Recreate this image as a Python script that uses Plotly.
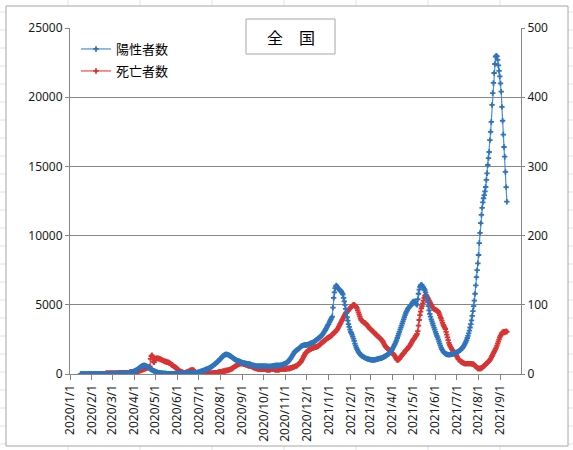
import pandas as pd
import plotly.graph_objects as go

# 7-day average, daily values
pos_start = "2020-01-16"
positives = [
    0, 0, 0, 0, 0, 0, 0, 0, 1, 1, 1, 1, 1, 1, 1, 2,
    2, 2, 2, 2, 2, 2, 2, 1, 1, 1, 1, 1, 2, 3, 4, 5, 6, 7, 8, 9, 10, 12, 14, 15, 16, 17, 18, 19, 20,
    21, 22, 24, 26, 28, 30, 33, 35, 38, 40, 42, 43, 44, 45, 45, 44, 43, 42, 42, 43, 45, 48, 52, 58, 66, 80, 95, 115, 135, 160, 185,
    200, 225, 250, 280, 310, 350, 390, 430, 470, 510, 545, 575, 600, 620, 625, 615, 595, 570, 540, 505, 470, 435, 400, 365, 330, 300, 270, 245, 220, 200,
    170, 150, 130, 115, 100, 90, 80, 70, 60, 55, 50, 45, 40, 38, 35, 32, 30, 28, 26, 25, 24, 24, 24, 25, 26, 27, 28, 30, 32, 34, 36,
    37, 38, 39, 40, 41, 42, 43, 44, 45, 46, 47, 48, 49, 50, 52, 54, 56, 58, 60, 62, 65, 68, 72, 76, 80, 85, 92, 100, 110, 120,
    130, 145, 160, 180, 200, 220, 240, 260, 280, 300, 320, 340, 360, 380, 400, 430, 460, 490, 520, 560, 600, 640, 680, 720, 760, 800, 850, 900, 950, 1000, 1050,
    1100, 1160, 1220, 1280, 1320, 1360, 1390, 1410, 1420, 1415, 1400, 1380, 1350, 1320, 1290, 1260, 1220, 1180, 1140, 1100, 1070, 1040, 1010, 980, 960, 940, 920, 900, 880, 860, 840,
    820, 800, 790, 780, 770, 760, 750, 740, 730, 720, 710, 700, 680, 660, 640, 620, 610, 600, 590, 580, 570, 560, 560, 560, 560, 560, 560, 560, 560, 560,
    560, 560, 560, 560, 560, 550, 550, 550, 550, 550, 550, 560, 570, 580, 590, 600, 610, 610, 610, 610, 620, 620, 620, 620, 630, 640, 660, 680, 700, 720, 750,
    770, 800, 830, 870, 920, 980, 1050, 1120, 1200, 1280, 1370, 1460, 1540, 1610, 1660, 1700, 1730, 1760, 1800, 1850, 1900, 1950, 2000, 2030, 2050, 2070, 2080, 2090, 2100, 2110,
    2100, 2120, 2140, 2160, 2180, 2200, 2220, 2240, 2260, 2290, 2320, 2360, 2400, 2440, 2480, 2520, 2560, 2600, 2640, 2680, 2720, 2780, 2850, 2920, 3000, 3080, 3160, 3250, 3350, 3450, 3550,
    3600, 3750, 3850, 3950, 4050, 4150, 4800, 5500, 5900, 6200, 6350, 6400, 6300, 6200, 6150, 6100, 6050, 6000, 5950, 5850, 5750, 5500, 5250, 5000, 4700, 4400, 4100, 3850, 3600, 3400, 3200,
    3050, 2950, 2850, 2700, 2550, 2400, 2200, 2050, 1900, 1800, 1700, 1600, 1520, 1450, 1400, 1350, 1300, 1270, 1240, 1210, 1180, 1150, 1130, 1110, 1090, 1070, 1060, 1050,
    1040, 1030, 1020, 1010, 1010, 1020, 1030, 1040, 1050, 1060, 1080, 1100, 1110, 1120, 1130, 1140, 1160, 1180, 1200, 1230, 1260, 1290, 1320, 1350, 1380, 1420, 1460, 1510, 1570, 1640, 1720,
    1800, 1900, 2000, 2100, 2200, 2320, 2450, 2600, 2750, 2900, 3050, 3200, 3350, 3500, 3650, 3800, 3950, 4100, 4250, 4400, 4500, 4600, 4700, 4780, 4850, 4900, 4950, 5000, 5100, 5200,
    5250, 5250, 5200, 5150, 5050, 5000, 5400, 5800, 6100, 6300, 6400, 6450, 6400, 6300, 6250, 6150, 6050, 5900, 5700, 5450, 5200, 4900, 4600, 4350, 4150, 3950, 3800, 3650, 3500, 3350, 3200,
    3050, 2900, 2750, 2650, 2500, 2350, 2200, 2050, 1900, 1800, 1700, 1620, 1560, 1510, 1470, 1440, 1420, 1410, 1400, 1400, 1400, 1410, 1420, 1430, 1440, 1460, 1480, 1500, 1520, 1540,
    1560, 1590, 1620, 1650, 1690, 1730, 1770, 1820, 1880, 1950, 2030, 2120, 2220, 2330, 2450, 2600, 2760, 2940, 3140, 3360, 3600, 3880, 4200, 4550, 4900, 5300, 5800, 6400, 7000, 7500, 8000,
    8600, 9460, 10200, 10900, 11500, 12000, 12400, 12700, 12930, 13200, 13510, 14020, 14500, 15100, 15600, 16040, 16900, 17500, 18210, 19440, 20300, 21030, 21750, 22400, 22925, 23000, 22950, 22700, 22300, 21900, 21500,
    21000, 20400, 19300, 18300, 17300, 16400, 15700, 14600, 13500, 12450,
]

death_start = "2020-02-13"
deaths = [
    0, 0, 0, 0, 0, 0, 0, 0, 1, 1, 1, 1, 1, 1, 1, 1, 1,
    1, 1, 1, 1, 1, 1, 1, 1, 1, 1, 2, 2, 2, 2, 2, 2, 2, 2, 2, 2, 2, 2, 2, 2, 2, 3, 3, 3, 3, 3, 3,
    3, 3, 4, 4, 4, 4, 4, 5, 5, 5, 6, 6, 6, 7, 7, 8, 8, 9, 9, 9, 10, 10, 11, 22, 26, 27, 25, 18, 17, 20,
    22, 23, 23, 22, 23, 22, 22, 21, 21, 20, 20, 19, 19, 18, 18, 18, 17, 17, 17, 16, 16, 15, 14, 13, 13, 12, 11, 10, 10, 9, 8,
    7, 6, 5, 4, 4, 3, 3, 3, 2, 2, 2, 2, 2, 3, 3, 3, 4, 4, 5, 5, 6, 6, 6, 5, 4, 3, 2, 2, 1, 1,
    1, 1, 1, 1, 1, 1, 1, 1, 1, 1, 1, 1, 1, 1, 1, 1, 1, 1, 1, 1, 1, 2, 2, 2, 2, 2, 2, 2, 3, 3, 3,
    3, 3, 3, 4, 4, 4, 4, 5, 5, 5, 5, 6, 6, 6, 7, 7, 8, 8, 9, 10, 11, 11, 12, 13, 13, 14, 14, 15, 15, 15, 15,
    15, 15, 14, 14, 14, 13, 13, 13, 12, 12, 12, 12, 11, 11, 10, 10, 9, 9, 9, 8, 8, 8, 7, 7, 7, 7, 7, 7, 7, 7,
    7, 7, 7, 7, 6, 6, 6, 6, 6, 6, 7, 7, 7, 7, 7, 7, 6, 6, 6, 6, 6, 6, 6, 7, 7, 7, 7, 7, 7, 7, 7,
    7, 7, 8, 8, 8, 8, 8, 9, 9, 9, 10, 10, 10, 11, 11, 12, 12, 13, 14, 15, 16, 17, 18, 20, 22, 24, 26, 28, 30, 31,
    32, 33, 34, 35, 35, 36, 36, 37, 37, 38, 38, 39, 39, 39, 39, 40, 40, 41, 42, 43, 44, 45, 46, 47, 47, 48, 49, 50, 51, 52, 52,
    53, 53, 54, 55, 56, 57, 58, 59, 60, 61, 62, 63, 64, 66, 68, 70, 72, 74, 76, 78, 80, 82, 84, 86, 88, 89, 90, 91, 92, 94, 95,
    96, 97, 98, 99, 100, 100, 99, 98, 97, 95, 92, 89, 86, 83, 80, 78, 77, 76, 75, 74, 74, 73, 72, 71, 70, 68, 67, 66,
    65, 64, 63, 62, 61, 60, 59, 58, 57, 56, 55, 54, 53, 52, 51, 50, 49, 48, 46, 44, 42, 40, 39, 38, 37, 36, 35, 34, 33, 32, 31,
    30, 29, 28, 27, 25, 23, 21, 20, 20, 21, 22, 24, 25, 26, 28, 29, 30, 31, 33, 34, 35, 36, 37, 39, 40, 41, 43, 45, 47, 49,
    50, 51, 53, 55, 56, 58, 62, 70, 78, 85, 90, 95, 98, 102, 106, 110, 113, 114, 113, 112, 110, 108, 106, 104, 102, 100, 98, 96, 95, 94, 93,
    93, 92, 92, 91, 90, 88, 85, 82, 80, 77, 74, 71, 69, 67, 65, 61, 57, 53, 49, 45, 42, 40, 38, 36, 35, 33, 32, 31, 30, 28,
    26, 24, 22, 21, 20, 19, 18, 17, 17, 16, 16, 15, 15, 15, 15, 15, 15, 15, 15, 15, 15, 15, 14, 14, 14, 13, 12, 11, 10, 9, 8,
    8, 8, 8, 8, 9, 9, 10, 11, 12, 13, 14, 15, 16, 17, 18, 19, 20, 22, 24, 26, 28, 30, 32, 34, 36, 38, 41, 44, 47, 50, 53,
    55, 57, 59, 60, 61, 61, 60, 61, 62, 61,
]

pos_dates = pd.date_range(pos_start, periods=len(positives), freq="D")
death_dates = pd.date_range(death_start, periods=len(deaths), freq="D")

W, H = 573, 450
L, R, T, B = 70, 52, 28, 76
PW, PH = W - L - R, H - T - B


def px(x):
    return (x - L) / PW


def py(y):
    return (H - B - y) / PH


grey = "#868686"
jp_font = "Noto Sans CJK JP"
tick_font = dict(family="Noto Sans", size=12, color="#1a1a1a")
legend_style = dict(xanchor="left", yanchor="top", bgcolor="rgba(0,0,0,0)",
                    font=dict(family=jp_font, size=13, color="#000"), itemwidth=30)

fig = go.Figure()

fig.add_trace(
    go.Scatter(
        x=death_dates, y=deaths, name="死亡者数", mode="lines+markers",
        yaxis="y", legend="legend2",
        line=dict(color="#f04848", width=1.2),
        marker=dict(symbol="cross", size=4.5, color="#d83434", line_width=0),
    )
)
fig.add_trace(
    go.Scatter(
        x=pos_dates, y=positives, name="陽性者数", mode="lines+markers",
        yaxis="y2", legend="legend",
        line=dict(color="#4a8fd6", width=1.2),
        marker=dict(symbol="cross", size=4.5, color="#2f74bb", line_width=0),
    )
)

shapes = []
# spreadsheet cells behind the chart
for cx in [68, 140, 212, 284, 356, 428, 500]:
    shapes.append(dict(type="line", xref="paper", yref="paper", x0=px(cx), x1=px(cx),
                       y0=py(0), y1=py(H), line=dict(color="#e2e2e2", width=1), layer="below"))
for ry in range(12, H, 18):
    shapes.append(dict(type="line", xref="paper", yref="paper", x0=px(0), x1=px(W),
                       y0=py(ry), y1=py(ry), line=dict(color="#e2e2e2", width=1), layer="below"))
# chart area
shapes.append(dict(type="rect", xref="paper", yref="paper", x0=px(6), x1=px(568),
                   y0=py(446), y1=py(6), fillcolor="white",
                   line=dict(color="#a6a6a6", width=1), layer="below"))
# title box
shapes.append(dict(type="rect", xref="paper", yref="paper", x0=px(246), x1=px(335),
                   y0=py(54), y1=py(19), fillcolor="white",
                   line=dict(color="#a6a6a6", width=1), layer="above"))

fig.update_layout(
    width=W, height=H, autosize=False,
    margin=dict(l=L, r=R, t=T, b=B, autoexpand=False),
    paper_bgcolor="white", plot_bgcolor="rgba(0,0,0,0)",
    font=dict(family="Noto Sans, " + jp_font, size=12, color="#262626"),
    shapes=shapes,
    annotations=[dict(text="全　国", xref="paper", yref="paper", x=px(291), y=py(37),
                      xanchor="center", yanchor="middle",
                      showarrow=False, font=dict(family=jp_font, size=16, color="#000"))],
    showlegend=True,
    legend=dict(x=px(76), y=py(34), **legend_style),
    legend2=dict(x=px(76), y=py(56), **legend_style),
    xaxis=dict(
        type="date", range=["2020-01-01", "2021-09-30"], automargin=False,
        tick0="2020-01-01", dtick="M1", tickformat="%Y/%-m/%-d", tickangle=-90,
        ticks="outside", ticklen=5, tickcolor=grey,
        showline=True, linecolor=grey, linewidth=1, showgrid=False,
        tickfont=tick_font,
    ),
    yaxis=dict(
        side="right", range=[0, 500], dtick=100, automargin=False,
        ticks="outside", ticklen=3, tickcolor=grey,
        showline=True, linecolor=grey, showgrid=False, zeroline=False,
        tickfont=tick_font,
    ),
    yaxis2=dict(
        overlaying="y", side="left", range=[0, 25000], dtick=5000, automargin=False,
        tickformat="d",
        ticks="outside", ticklen=4, tickcolor=grey,
        showline=True, linecolor=grey, showgrid=True, gridcolor=grey, gridwidth=1,
        zeroline=False, tickfont=tick_font,
    ),
)

# drop the browser's default body margin so the figure sits at the page origin
fig.write_html("out.html", config={"displayModeBar": False},
               post_script="document.body.style.margin='0';")
